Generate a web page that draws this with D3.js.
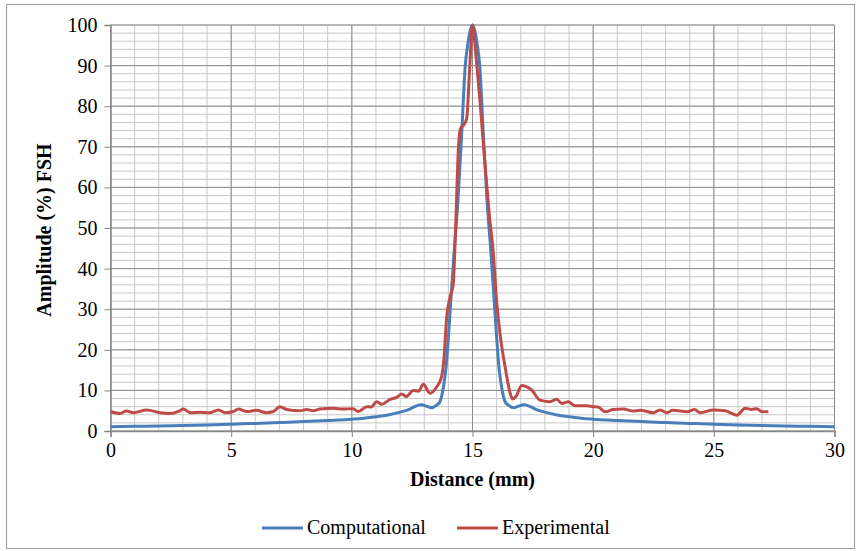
<!DOCTYPE html>
<html>
<head>
<meta charset="utf-8">
<script src="https://cdn.jsdelivr.net/npm/d3@7"></script>
<style>
    body { margin: 0; background: #ffffff; }
    text { font-family: "Liberation Serif", "Times New Roman", serif; fill: #000000; }
</style>
</head>
<body>
<div id="chart-container"></div>
<script>
// Computational curve (distance in mm, amplitude in % FSH)
var compX = [0, 1, 2, 3, 4, 5, 6, 7, 8, 9, 10, 10.5, 11, 11.5, 12, 12.4, 12.6, 12.85, 13.15, 13.3, 13.5, 13.65, 13.8, 13.9,
    14, 14.1, 14.25, 14.4, 14.55, 14.7, 14.8, 14.9, 15, 15.1, 15.2, 15.3, 15.45, 15.6, 15.75, 15.9, 16, 16.1, 16.2,
    16.35, 16.5, 16.7, 16.85, 17.15, 17.4, 17.6, 18, 18.5, 19, 19.5, 20, 21, 22, 23, 24, 25, 26, 27, 28, 29, 30];
var compY = [1.05, 1.15, 1.25, 1.37, 1.5, 1.68, 1.87, 2.08, 2.32, 2.6, 2.92, 3.15, 3.5, 3.95, 4.65, 5.4, 6.0, 6.45, 6.0, 5.7, 6.3, 7.2, 11, 15.5,
    23, 32, 45, 57, 73, 90, 95, 98.5, 100, 98.5, 95, 90, 73, 57, 45, 32, 23, 15.5, 11,
    7.2, 6.3, 5.7, 6.0, 6.45, 6.0, 5.4, 4.65, 3.95, 3.5, 3.15, 2.92, 2.6, 2.32, 2.08, 1.87, 1.68, 1.5, 1.37, 1.25, 1.15, 1.05];

// Experimental curve
var expX = [0, 0.4, 0.65, 0.95, 1.5, 2.05, 2.45, 2.85, 3.02, 3.3, 3.7, 4.1, 4.47, 4.75, 5.1, 5.3, 5.65, 6.05, 6.45, 6.75,
    7.02, 7.3, 7.85, 8.13, 8.4, 8.68, 9.23, 9.65, 10.05, 10.27, 10.62, 10.8, 11.03, 11.24, 11.58, 11.86, 12.07, 12.25,
    12.55, 12.76, 12.96, 13.24, 13.52, 13.72, 13.82, 13.93, 14.07, 14.2, 14.3, 14.42, 14.5, 14.65, 14.76, 14.88, 15,
    15.15, 15.3, 15.5, 15.7, 15.86, 16, 16.14, 16.35, 16.56, 16.65, 16.8, 17.04, 17.2, 17.45, 17.8, 18.21, 18.49, 18.7,
    18.97, 19.25, 19.73, 20, 20.2, 20.5, 20.84, 21.25, 21.67, 21.94, 22.5, 22.77, 23.05, 23.3, 23.9, 24.2, 24.43,
    24.98, 25.47, 25.95, 26.3, 26.57, 26.78, 26.99, 27.26];
var expY = [4.8, 4.3, 4.9, 4.5, 5.2, 4.5, 4.3, 4.9, 5.4, 4.5, 4.6, 4.5, 5.2, 4.5, 4.8, 5.4, 4.8, 5.1, 4.5, 4.8,
    6.0, 5.3, 5.0, 5.3, 5.0, 5.4, 5.6, 5.4, 5.5, 4.8, 6.0, 5.9, 7.2, 6.6, 7.8, 8.3, 9.1, 8.5,
    10.0, 9.8, 11.5, 9.3, 10.9, 13.4, 18, 28, 33, 36, 50, 70, 74.5, 75.5, 77, 89, 100,
    92, 82, 67, 53, 44, 32, 24, 15.8, 9.3, 7.9, 8.5, 11.2, 11, 10.1, 7.6, 7.2, 7.8, 6.8,
    7.2, 6.2, 6.2, 6.0, 5.9, 4.75, 5.3, 5.4, 4.9, 5.1, 4.5, 5.2, 4.5, 5.1, 4.75, 5.3, 4.5,
    5.2, 5.0, 3.9, 5.6, 5.3, 5.5, 4.75, 4.75];

var seriesNames = ["Computational", "Experimental"];
var seriesColors = ["#4a7ebb", "#be4b48"];

// Axis ticks
var xTicks = [0, 5, 10, 15, 20, 25, 30];
var yTicks = [0, 10, 20, 30, 40, 50, 60, 70, 80, 90, 100];
var xMinor = d3.range(0, 31, 1);
var yMinor = d3.range(0, 101, 2);

var width = 857, height = 551;
var plotLeft = 110.5, plotRight = 834.5, plotTop = 25, plotBottom = 431;

var svg = d3.select("#chart-container").append("svg")
    .attr("width", width)
    .attr("height", height);

// outer chart frame
svg.append("rect")
    .attr("x", 6.5).attr("y", 4.5)
    .attr("width", 848).attr("height", 544)
    .attr("fill", "#ffffff")
    .attr("stroke", "#9a9a9a")
    .attr("stroke-width", 1);

var x = d3.scaleLinear().domain([0, 30]).range([plotLeft, plotRight]);
var y = d3.scaleLinear().domain([0, 100]).range([plotBottom, plotTop]);

// minor gridlines
var grid = svg.append("g");
grid.selectAll(".vminor").data(xMinor).enter().append("line")
    .attr("x1", function(d) { return x(d); }).attr("x2", function(d) { return x(d); })
    .attr("y1", y(0)).attr("y2", y(100))
    .attr("stroke", "#c8c8c8").attr("stroke-width", 1);
grid.selectAll(".hminor").data(yMinor).enter().append("line")
    .attr("x1", x(0)).attr("x2", x(30))
    .attr("y1", function(d) { return y(d); }).attr("y2", function(d) { return y(d); })
    .attr("stroke", "#c8c8c8").attr("stroke-width", 1);

// major gridlines
grid.selectAll(".vmajor").data(xTicks).enter().append("line")
    .attr("x1", function(d) { return x(d); }).attr("x2", function(d) { return x(d); })
    .attr("y1", y(0)).attr("y2", y(100))
    .attr("stroke", "#8c8c8c").attr("stroke-width", 1);
grid.selectAll(".hmajor").data(yTicks).enter().append("line")
    .attr("x1", x(0)).attr("x2", x(30))
    .attr("y1", function(d) { return y(d); }).attr("y2", function(d) { return y(d); })
    .attr("stroke", "#8c8c8c").attr("stroke-width", 1);

// axes
var xAxis = svg.append("g")
    .attr("transform", "translate(0," + plotBottom + ")")
    .call(d3.axisBottom(x).tickValues(xTicks).tickSize(6).tickPadding(6).tickFormat(d3.format("d")));
var yAxis = svg.append("g")
    .attr("transform", "translate(" + plotLeft + ",0)")
    .call(d3.axisLeft(y).tickValues(yTicks).tickSize(6).tickPadding(7).tickFormat(d3.format("d")));

[xAxis, yAxis].forEach(function(a) {
    a.select(".domain").attr("stroke", "#868686").attr("stroke-width", 1.5);
    a.selectAll(".tick line").attr("stroke", "#868686");
    a.selectAll(".tick text")
        .style("font-family", '"Liberation Serif", "Times New Roman", serif')
        .style("font-size", "20px")
        .attr("fill", "#000000");
});

// series lines
var line = d3.line()
    .x(function(d) { return x(d[0]); })
    .y(function(d) { return y(d[1]); })
    .curve(d3.curveMonotoneX);

var compData = d3.zip(compX, compY);
var expData = d3.zip(expX, expY);

svg.append("path").datum(compData)
    .attr("d", line)
    .attr("fill", "none")
    .attr("stroke", seriesColors[0])
    .attr("stroke-width", 3)
    .attr("stroke-linejoin", "round");

svg.append("path").datum(expData)
    .attr("d", line)
    .attr("fill", "none")
    .attr("stroke", seriesColors[1])
    .attr("stroke-width", 3)
    .attr("stroke-linejoin", "round");

// axis titles
svg.append("text")
    .attr("x", (plotLeft + plotRight) / 2).attr("y", 486)
    .attr("text-anchor", "middle")
    .style("font-size", "20px").style("font-weight", "bold")
    .text("Distance (mm)");

svg.append("text")
    .attr("transform", "translate(51," + ((plotTop + plotBottom) / 2 + 2) + ") rotate(-90)")
    .attr("text-anchor", "middle")
    .style("font-size", "20px").style("font-weight", "bold")
    .text("Amplitude (%) FSH");

// legend
var legendX = [262, 457];
var legend = svg.selectAll(".legend").data(seriesNames).enter().append("g")
    .attr("transform", function(d, i) { return "translate(" + legendX[i] + ",528)"; });
legend.append("line")
    .attr("x1", 0).attr("x2", 41).attr("y1", 0).attr("y2", 0)
    .attr("stroke", function(d, i) { return seriesColors[i]; })
    .attr("stroke-width", 3);
legend.append("text")
    .attr("x", 45).attr("y", 6)
    .style("font-size", "20px")
    .text(function(d) { return d; });
</script>
</body>
</html>
